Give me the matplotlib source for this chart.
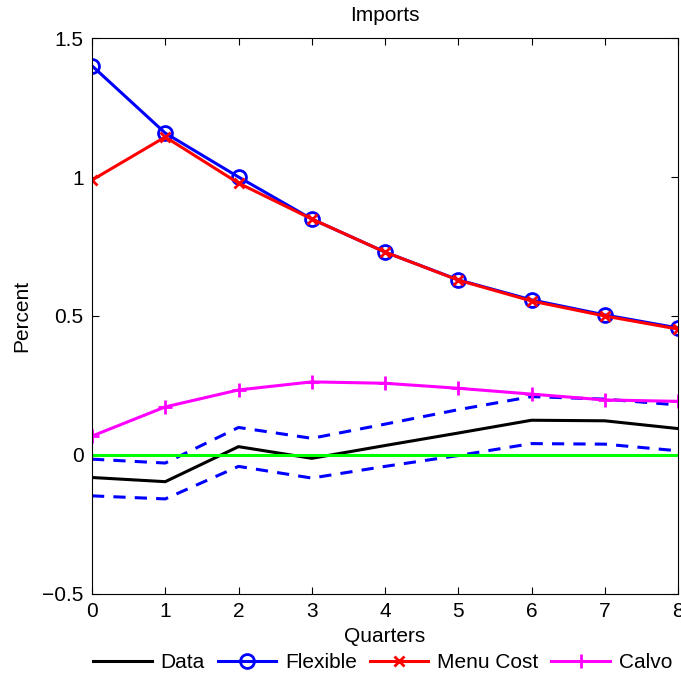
import numpy as np
import matplotlib.pyplot as plt

plt.rcParams['font.family'] = ['Liberation Sans', 'DejaVu Sans']

quarters = np.arange(9)
data = [-0.081, -0.096, 0.030, -0.012, 0.034, 0.079, 0.125, 0.123, 0.095]
data_upper = [-0.015, -0.029, 0.099, 0.060, 0.111, 0.163, 0.210, 0.201, 0.180]
data_lower = [-0.147, -0.158, -0.041, -0.083, -0.041, -0.002, 0.041, 0.039, 0.015]
flexible = [1.400, 1.158, 1.000, 0.849, 0.730, 0.630, 0.558, 0.504, 0.457]
menu_cost = [0.989, 1.144, 0.978, 0.849, 0.730, 0.629, 0.554, 0.500, 0.453]
calvo = [0.068, 0.173, 0.234, 0.263, 0.258, 0.240, 0.219, 0.198, 0.193]
zero = [0.0] * 9

fig = plt.figure(figsize=(6.81, 6.80), dpi=100)
ax = fig.add_axes([0.1351, 0.1265, 0.8605, 0.8176])

l_data, = ax.plot(quarters, data, color='k', lw=2.2, label='Data')
ax.plot(quarters, data_upper, color='b', lw=2.2, ls=(0, (4, 3)))
ax.plot(quarters, data_lower, color='b', lw=2.2, ls=(0, (4, 3)))
ax.plot(quarters, zero, color='#00ff00', lw=2.2)
l_flex, = ax.plot(quarters, flexible, color='b', lw=2.2, marker='o', ms=10,
                  mfc='none', mew=2, label='Flexible')
l_menu, = ax.plot(quarters, menu_cost, color='r', lw=2.2, marker='x', ms=7,
                  mew=2, label='Menu Cost')
l_calvo, = ax.plot(quarters, calvo, color='#ff00ff', lw=2.2, marker='+', ms=10,
                   mew=2, label='Calvo')

ax.set_xlim(0, 8)
ax.set_ylim(-0.5, 1.5)
ax.set_xticks(quarters)
ax.set_yticks([-0.5, 0, 0.5, 1, 1.5])
ax.set_yticklabels(['\u22120.5', '0', '0.5', '1', '1.5'])
ax.tick_params(direction='in', length=5, labelsize=15, top=True, right=True,
               labeltop=False, labelright=False, pad=6)
ax.set_title('Imports', fontsize=15, pad=12)
ax.set_xlabel('Quarters', fontsize=15, labelpad=4)
ax.set_ylabel('Percent', fontsize=15, labelpad=8)

fig.legend(handles=[l_data, l_flex, l_menu, l_calvo], loc='center',
           bbox_to_anchor=(0.562, 0.026), ncol=4, frameon=False, fontsize=15,
           handlelength=2.8, handletextpad=0.43, columnspacing=0.62)

fig.savefig('out.png', dpi=100)
